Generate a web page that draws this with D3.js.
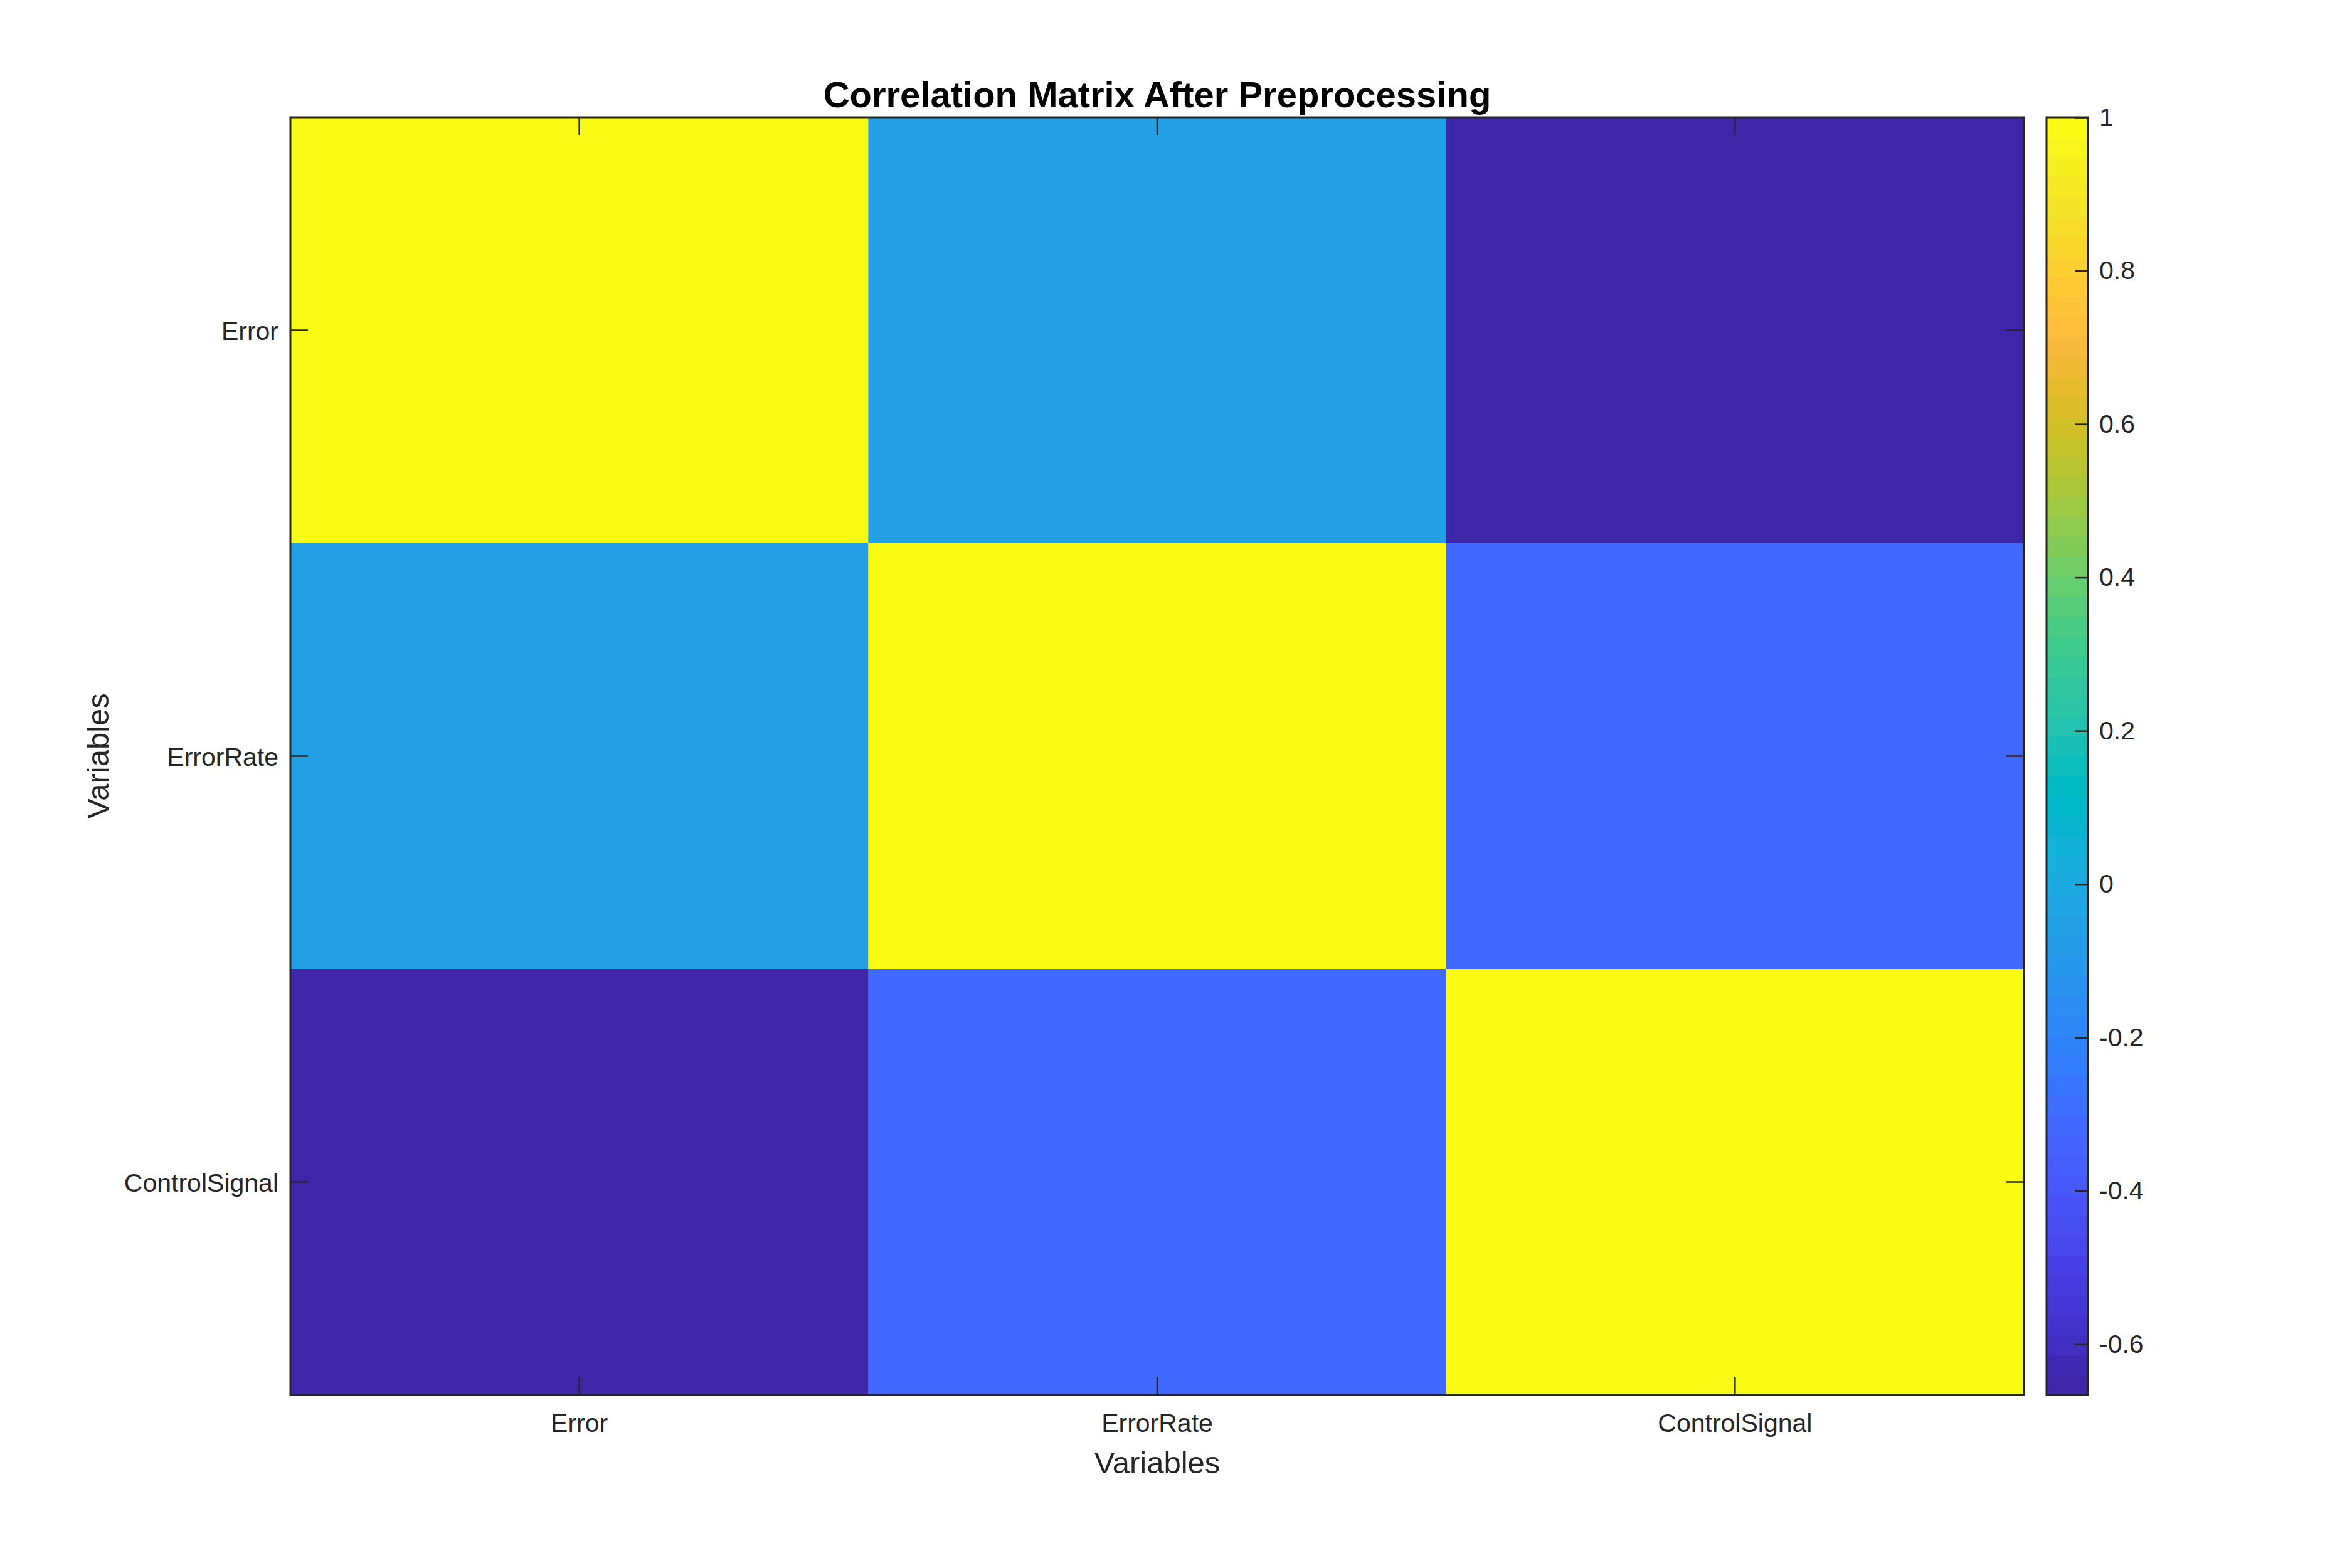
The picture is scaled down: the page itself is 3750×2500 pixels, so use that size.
<!DOCTYPE html>
<html>
<head>
<meta charset="utf-8">
<script src="https://cdn.jsdelivr.net/npm/d3@7"></script>
<style>
  body { margin: 0; background: #fff; }
  text { font-family: "Liberation Sans", Arial, Helvetica, sans-serif; }
</style>
</head>
<body>
<script>
// data
var vars = ['Error', 'ErrorRate', 'ControlSignal'];
var corr = [
  [1.000, -0.055, -0.666],
  [-0.055, 1.000, -0.315],
  [-0.666, -0.315, 1.000]
];
var cbTicks = [-0.6, -0.4, -0.2, 0, 0.2, 0.4, 0.6, 0.8, 1];
var title = 'Correlation Matrix After Preprocessing';
var xTitle = 'Variables';
var yTitle = 'Variables';

// MATLAB parula, 64 steps
var parula = [
  [0.2422,0.1504,0.6603],[0.2504,0.1650,0.7076],[0.2578,0.1818,0.7511],[0.2647,0.1978,0.7952],
  [0.2706,0.2147,0.8364],[0.2751,0.2342,0.8710],[0.2783,0.2559,0.8991],[0.2803,0.2782,0.9221],
  [0.2813,0.3006,0.9414],[0.2810,0.3228,0.9579],[0.2795,0.3447,0.9717],[0.2760,0.3667,0.9829],
  [0.2699,0.3892,0.9906],[0.2602,0.4123,0.9952],[0.2440,0.4358,0.9988],[0.2206,0.4603,0.9973],
  [0.1963,0.4847,0.9892],[0.1834,0.5074,0.9798],[0.1786,0.5289,0.9682],[0.1764,0.5499,0.9520],
  [0.1687,0.5703,0.9359],[0.1540,0.5902,0.9218],[0.1460,0.6091,0.9079],[0.1380,0.6276,0.8973],
  [0.1248,0.6459,0.8883],[0.1113,0.6635,0.8763],[0.0952,0.6798,0.8598],[0.0689,0.6948,0.8394],
  [0.0297,0.7082,0.8163],[0.0036,0.7203,0.7917],[0.0067,0.7312,0.7660],[0.0433,0.7411,0.7394],
  [0.0964,0.7500,0.7120],[0.1408,0.7584,0.6842],[0.1717,0.7670,0.6554],[0.1938,0.7758,0.6251],
  [0.2161,0.7843,0.5923],[0.2470,0.7918,0.5567],[0.2906,0.7973,0.5188],[0.3406,0.8008,0.4789],
  [0.3909,0.8029,0.4354],[0.4456,0.8024,0.3909],[0.5044,0.7993,0.3480],[0.5616,0.7942,0.3045],
  [0.6174,0.7876,0.2612],[0.6720,0.7793,0.2227],[0.7242,0.7698,0.1910],[0.7738,0.7598,0.1646],
  [0.8203,0.7498,0.1535],[0.8634,0.7406,0.1596],[0.9035,0.7330,0.1774],[0.9393,0.7288,0.2100],
  [0.9728,0.7298,0.2394],[0.9956,0.7434,0.2371],[0.9970,0.7659,0.2199],[0.9952,0.7893,0.2028],
  [0.9892,0.8136,0.1885],[0.9786,0.8386,0.1766],[0.9676,0.8639,0.1643],[0.9610,0.8890,0.1537],
  [0.9597,0.9135,0.1423],[0.9628,0.9373,0.1265],[0.9691,0.9606,0.1064],[0.9769,0.9839,0.0805]
].map(function(c) { return d3.rgb(c[0]*255, c[1]*255, c[2]*255).formatHex(); });

var W = 3750, H = 2500;
var pL = 463, pR = 3227, pT = 187, pB = 2224;
var cbX = 3263, cbW = 66;
var axisColor = '#262626';
var tickFont = 41;

var svg = d3.select('body').append('svg')
  .attr('width', W)
  .attr('height', H);

var cells = [];
corr.forEach(function(row, i) {
  row.forEach(function(v, j) { cells.push({ r: vars[i], c: vars[j], v: v }); });
});

var cmin = d3.min(cells, function(d) { return d.v; });
var cmax = d3.max(cells, function(d) { return d.v; });

var x = d3.scaleBand().domain(vars).range([pL, pR]);
var y = d3.scaleBand().domain(vars).range([pT, pB]);
var color = d3.scaleQuantize().domain([cmin, cmax]).range(parula);

svg.append('g').selectAll('rect')
  .data(cells)
  .enter().append('rect')
  .attr('x', function(d) { return x(d.c); })
  .attr('y', function(d) { return y(d.r); })
  .attr('width', x.bandwidth() + 0.5)
  .attr('height', y.bandwidth() + 0.5)
  .attr('fill', function(d) { return color(d.v); });

function style(g) {
  g.select('.domain').remove();
  g.selectAll('line').attr('stroke', axisColor).attr('stroke-width', 2.5);
  g.selectAll('text').attr('fill', axisColor).style('font-size', tickFont + 'px')
    .style('font-family', '"Liberation Sans", Arial, sans-serif');
}

svg.append('g')
  .attr('transform', `translate(0,${pB})`)
  .call(d3.axisBottom(x).tickSize(-28).tickPadding(30))
  .call(style);

svg.append('g')
  .attr('transform', `translate(0,${pT})`)
  .call(d3.axisTop(x).tickSize(-28).tickFormat(''))
  .call(style);

svg.append('g')
  .attr('transform', `translate(${pL},0)`)
  .call(d3.axisLeft(y).tickSize(-28).tickPadding(19))
  .call(style)
  .selectAll('text').attr('dy', '0.38em');

svg.append('g')
  .attr('transform', `translate(${pR},0)`)
  .call(d3.axisRight(y).tickSize(-28).tickFormat(''))
  .call(style);

svg.append('rect')
  .attr('x', pL).attr('y', pT)
  .attr('width', pR - pL).attr('height', pB - pT)
  .attr('fill', 'none')
  .attr('stroke', axisColor)
  .attr('stroke-width', 3);

// colorbar
var cb = d3.scaleLinear().domain([cmin, cmax]).range([pB, pT]);
var step = (cmax - cmin) / parula.length;
svg.append('g').selectAll('rect')
  .data(parula)
  .enter().append('rect')
  .attr('x', cbX)
  .attr('width', cbW)
  .attr('y', function(c, i) { return cb(cmin + (i + 1) * step); })
  .attr('height', function(c, i) { return cb(cmin + i * step) - cb(cmin + (i + 1) * step) + 0.6; })
  .attr('fill', function(c) { return c; });

svg.append('g')
  .attr('transform', `translate(${cbX + cbW},0)`)
  .call(d3.axisRight(cb).tickValues(cbTicks).tickSize(-21).tickPadding(18)
    .tickFormat(function(d) { return String(+d.toFixed(1)); }))
  .call(style);

svg.append('rect')
  .attr('x', cbX).attr('y', pT)
  .attr('width', cbW).attr('height', pB - pT)
  .attr('fill', 'none')
  .attr('stroke', axisColor)
  .attr('stroke-width', 3);

// titles
svg.append('text')
  .attr('x', (pL + pR) / 2)
  .attr('y', 171)
  .attr('text-anchor', 'middle')
  .style('font-size', '58px')
  .style('font-weight', 'bold')
  .attr('fill', '#000')
  .text(title);

svg.append('text')
  .attr('x', (pL + pR) / 2)
  .attr('y', 2349)
  .attr('text-anchor', 'middle')
  .style('font-size', '49px')
  .attr('fill', axisColor)
  .text(xTitle);

svg.append('text')
  .attr('transform', `translate(173,${(pT + pB) / 2}) rotate(-90)`)
  .attr('text-anchor', 'middle')
  .style('font-size', '49px')
  .attr('fill', axisColor)
  .text(yTitle);
</script>
</body>
</html>
